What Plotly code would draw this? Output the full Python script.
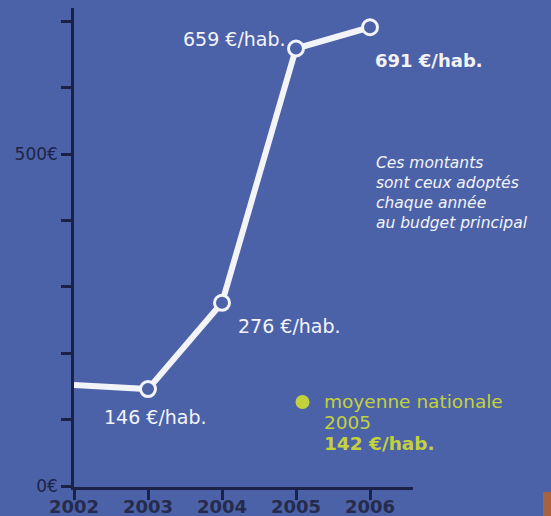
import plotly.graph_objects as go

# ---- data ----
years = [2002, 2003, 2004, 2005, 2006]
values = [152, 146, 276, 659, 691]
value_labels = ["", "146 €/hab.", "276 €/hab.", "659 €/hab.", "691 €/hab."]
y_tickvals = [0, 100, 200, 300, 400, 500, 600, 700]
y_ticktext = ["0€", "", "", "", "", "500€", "", ""]
note_lines = ["Ces montants", "sont ceux adoptés", "chaque année", "au budget principal"]
avg_lines = ["moyenne nationale", "2005", "142 €/hab."]

W, H = 551, 516
L, R, T, B = 74, 413, 8, 487  # plot area in pixels

BG = "#4c62a8"
NAVY = "#1c2146"
WHITE = "#f3f4f8"
GREEN = "#c3d23c"


def px(x):
    return (x - L) / (R - L)


def py(y):
    return (B - y) / (B - T)


fig = go.Figure()

fig.add_trace(go.Scatter(
    x=years, y=values, mode="lines",
    line=dict(color=WHITE, width=6),
    hoverinfo="skip", showlegend=False,
))
fig.add_trace(go.Scatter(
    x=years[1:], y=values[1:], mode="markers",
    marker=dict(size=15, color=BG, line=dict(color=WHITE, width=3)),
    cliponaxis=False, showlegend=False,
))

# value labels: (xanchor, xshift, yshift, bold)
label_style = {
    2003: ("center", 7, -28, False),
    2004: ("left", 14, -23, False),
    2005: ("right", -8, 10, False),
    2006: ("left", 3, -33, True),
}
for yr, v, lab in zip(years, values, value_labels):
    if not lab:
        continue
    xa, xs, ys, bold = label_style[yr]
    fig.add_annotation(
        x=yr, y=v, xref="x", yref="y", text=f"<b>{lab}</b>" if bold else lab,
        showarrow=False, xanchor=xa, yanchor="middle", xshift=xs, yshift=ys,
        font=dict(family="DejaVu Sans", size=18 if bold else 19, color=WHITE),
    )

# italic note
fig.add_annotation(
    x=px(374), y=py(152), xref="paper", yref="paper",
    text="<br>".join(note_lines), showarrow=False, align="left",
    xanchor="left", yanchor="top",
    font=dict(family="DejaVu Sans", size=15.5, color=WHITE, style="italic"),
)

# national average block
for i, line in enumerate(avg_lines):
    fig.add_annotation(
        x=px(322), y=py(401 + 21 * i), xref="paper", yref="paper",
        text=f"<b>{line}</b>" if i == 2 else line,
        showarrow=False, align="left", xanchor="left", yanchor="middle",
        font=dict(family="DejaVu Sans", size=18.5, color=GREEN),
    )
fig.add_shape(type="circle", xref="paper", yref="paper",
              x0=px(295.5), x1=px(309.5), y0=py(409), y1=py(395),
              fillcolor=GREEN, line=dict(width=0))

# corner piece
fig.add_shape(type="rect", xref="paper", yref="paper",
              x0=px(543), x1=px(552), y0=py(517), y1=py(492),
              fillcolor="#a8623e", line=dict(width=0))

fig.update_layout(
    width=W, height=H,
    margin=dict(l=L, r=W - R, t=T, b=H - B, autoexpand=False),
    paper_bgcolor=BG, plot_bgcolor=BG,
    showlegend=False,
    xaxis=dict(
        range=[2002, 2002 + (R - L) / 74.0],
        tickvals=years, ticktext=[str(y) for y in years],
        ticks="outside", ticklen=10, tickwidth=2.5, tickcolor=NAVY,
        ticklabelstandoff=-8,
        showline=True, linecolor=NAVY, linewidth=2.5,
        showgrid=False, zeroline=False,
        tickfont=dict(family="DejaVu Sans", size=18, color="#262b4c", weight="bold"),
        fixedrange=True,
    ),
    yaxis=dict(
        range=[-1.5, 720],
        tickvals=y_tickvals, ticktext=y_ticktext,
        ticks="outside", ticklen=10, tickwidth=2.5, tickcolor=NAVY,
        showline=True, linecolor=NAVY, linewidth=2.5,
        showgrid=False, zeroline=False,
        tickfont=dict(family="DejaVu Sans", size=17, color="#1e2446"),
        fixedrange=True,
    ),
)

fig.write_html(
    "out.html",
    config={"displayModeBar": False},
    post_script=(
        "document.body.style.margin='0';"
        "document.body.style.overflow='hidden';"
        f"document.body.style.background='{BG}';"
    ),
)
